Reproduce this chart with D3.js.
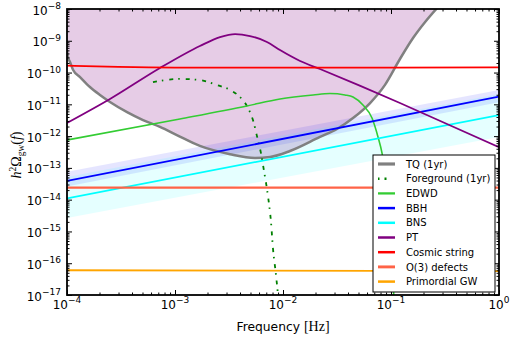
<!DOCTYPE html>
<html>
<head>
<meta charset="utf-8">
<script src="https://cdn.jsdelivr.net/npm/d3@7"></script>
<style>
  body { margin: 0; background: #fff; }
  svg { font-family: "DejaVu Sans", sans-serif; }
</style>
</head>
<body>
<svg id="chart" width="516" height="337"></svg>
<script>
// TianQin sensitivity (1yr)
var tqFreq = [1.0e-4, 1.02e-4, 1.066e-4, 1.14e-4, 1.32e-4, 1.63e-4, 2.02e-4, 2.50e-4, 3.60e-4, 5.06e-4, 7.26e-4, 1.04e-3,
              1.70e-3, 3.23e-3, 5.5e-3, 7.6e-3, 1.16e-2, 2.2e-2, 3.16e-2, 4.45e-2, 6.4e-2, 8.8e-2, 0.121, 0.160, 0.207, 0.267];
var tqOmega = [5.1e-10, 3.1e-10, 2.15e-10, 1.2e-10, 7.2e-11, 3.5e-11, 1.97e-11, 1.19e-11, 5.7e-12, 3.2e-12, 1.94e-12, 1.08e-12,
               4.9e-13, 2.7e-13, 2.05e-13, 2.2e-13, 3.4e-13, 9.4e-13, 1.67e-12, 3.7e-12, 1.1e-11, 4.1e-11, 2.67e-10, 1.22e-9, 3.9e-9, 1.07e-8];

// galactic foreground (1yr)
var fgFreq = [6.25e-4, 1.11e-3, 1.70e-3, 2.45e-3, 3.37e-3, 4.0e-3, 4.74e-3, 5.27e-3, 5.74e-3, 6.25e-3, 6.67e-3, 7.26e-3,
              7.74e-3, 8.07e-3, 8.61e-3, 8.99e-3, 9.3e-3];
var fgOmega = [5.0e-11, 6.3e-11, 5.8e-11, 4.06e-11, 2.63e-11, 1.70e-11, 7.7e-12, 3.2e-12, 1.0e-12, 2.9e-13, 8.0e-14, 1.3e-14,
               2.0e-15, 3.0e-16, 4.3e-17, 1.0e-17, 3e-18];

var edwdFreq = [1e-4, 1.11e-3, 4.64e-3, 9.38e-3, 1.90e-2, 2.72e-2, 3.75e-2, 4.45e-2, 5.5e-2, 6.67e-2, 7.58e-2, 8.26e-2, 9.0e-2, 9.8e-2, 0.106];
var edwdOmega = [7.55e-13, 3.46e-12, 8.9e-12, 1.47e-11, 1.97e-11, 2.19e-11, 1.97e-11, 1.70e-11, 9.5e-12, 3.7e-12, 9.4e-13, 2.9e-13, 4.2e-14, 2.3e-15, 1e-17];

var ptFreq = [1e-4, 2.5e-4, 7.26e-4, 1.70e-3, 2.61e-3, 3.6e-3, 4.95e-3, 7.1e-3, 9.38e-3, 1.44e-2, 2.2e-2, 5.2e-2, 0.121, 0.330, 1.0];
var ptOmega = [2.59e-12, 1.47e-11, 1.39e-10, 6.85e-10, 1.31e-9, 1.63e-9, 1.41e-9, 9.2e-10, 5.1e-10, 2.31e-10, 1.29e-10, 3.8e-11, 1.10e-11, 2.40e-12, 4.5e-13];

// power laws, two ends
var plFreq = [1e-4, 1];
var bbhOmega = [3.87e-14, 1.74e-11];
var bbhLow = [2.6e-14, 1.17e-11];
var bbhHigh = [7.6e-14, 2.83e-11];
var bnsOmega = [1.10e-14, 4.6e-12];
var bnsLow = [2.65e-15, 9.4e-13];
var bnsHigh = [5.2e-14, 2.1e-11];

var csFreq = [1e-4, 3e-4, 1e-3, 1e-2, 1e-1, 1];
var csOmega = [1.65e-10, 1.5e-10, 1.43e-10, 1.42e-10, 1.43e-10, 1.45e-10];
var o3Omega = [2.4e-14, 2.4e-14];
var pgwOmega = [6.0e-17, 5.6e-17];

var xTicks = [1e-4, 1e-3, 1e-2, 1e-1, 1];
var yTicks = [1e-17, 1e-16, 1e-15, 1e-14, 1e-13, 1e-12, 1e-11, 1e-10, 1e-9, 1e-8];

var legendNames = ["TQ (1yr)", "Foreground (1yr)", "EDWD", "BBH", "BNS", "PT", "Cosmic string", "O(3) defects", "Primordial GW"];

var svg = d3.select("#chart"),
    margin = {left: 67, right: 17, top: 9, bottom: 42},
    width = 516 - margin.left - margin.right,
    height = 337 - margin.top - margin.bottom,
    g = svg.append("g").attr("transform", "translate(" + margin.left + "," + margin.top + ")");

var x = d3.scaleLog().domain([1e-4, 1]).range([0, width]);
var y = d3.scaleLog().domain([1e-17, 1e-8]).range([height, 0]);

function pairs(fs, vs) { return fs.map(function(f, i) { return [f, vs[i]]; }); }

var line = d3.line()
    .x(function(d) { return x(d[0]); })
    .y(function(d) { return y(d[1]); })
    .curve(d3.curveMonotoneX);

g.append("clipPath").attr("id", "clip")
  .append("rect").attr("width", width).attr("height", height);

var plot = g.append("g").attr("clip-path", "url(#clip)");

// shaded region above the sensitivity curve
plot.append("path")
    .datum(pairs(tqFreq, tqOmega))
    .attr("fill", "#800080").attr("fill-opacity", 0.2)
    .attr("d", d3.area()
      .x(function(d) { return x(d[0]); })
      .y0(-20)
      .y1(function(d) { return y(d[1]); })
      .curve(d3.curveMonotoneX));

function band(lo, hi, color) {
  plot.append("path")
      .datum(plFreq.map(function(f, i) { return [f, lo[i], hi[i]]; }))
      .attr("fill", color).attr("fill-opacity", 0.1)
      .attr("d", d3.area()
        .x(function(d) { return x(d[0]); })
        .y0(function(d) { return y(d[1]); })
        .y1(function(d) { return y(d[2]); }));
}
band(bbhLow, bbhHigh, "#0000ff");
band(bnsLow, bnsHigh, "#00ffff");

var series = [
  {f: tqFreq, v: tqOmega, color: "#808080", w: 2.5},
  {f: fgFreq, v: fgOmega, color: "#008000", w: 1.8, dash: "4,5,1.5,6"},
  {f: edwdFreq, v: edwdOmega, color: "#33cc33", w: 1.6},
  {f: plFreq, v: bbhOmega, color: "#0000ff", w: 1.8},
  {f: plFreq, v: bnsOmega, color: "#00ffff", w: 1.8},
  {f: ptFreq, v: ptOmega, color: "#800080", w: 1.8},
  {f: csFreq, v: csOmega, color: "#ff0000", w: 1.8},
  {f: plFreq, v: o3Omega, color: "#ff6347", w: 2.2},
  {f: plFreq, v: pgwOmega, color: "#ffa500", w: 1.8}
];

series.forEach(function(s) {
  plot.append("path")
      .datum(pairs(s.f, s.v))
      .attr("fill", "none")
      .attr("stroke", s.color)
      .attr("stroke-width", s.w)
      .attr("stroke-dasharray", s.dash || null)
      .attr("d", line);
});

// ticks, inward on all four sides
function minors(lo, hi) {
  var out = [];
  for (var e = lo; e < hi; e++)
    for (var k = 2; k < 10; k++) out.push(k * Math.pow(10, e));
  return out;
}
var xMinor = minors(-4, 0), yMinor = minors(-17, -8);

function drawTicks(axis, tr, vals, size) {
  var a = g.append("g").attr("transform", tr)
      .call(axis.tickValues(vals).tickSize(size).tickFormat(""));
  a.select(".domain").remove();
  a.selectAll("line").attr("stroke", "#000");
}
drawTicks(d3.axisBottom(x), "translate(0," + height + ")", xTicks, -5);
drawTicks(d3.axisBottom(x), "translate(0," + height + ")", xMinor, -2.5);
drawTicks(d3.axisTop(x), "translate(0,0)", xTicks, -5);
drawTicks(d3.axisTop(x), "translate(0,0)", xMinor, -2.5);
drawTicks(d3.axisLeft(y), "translate(0,0)", yTicks, -5);
drawTicks(d3.axisLeft(y), "translate(0,0)", yMinor, -2.5);
drawTicks(d3.axisRight(y), "translate(" + width + ",0)", yTicks, -5);
drawTicks(d3.axisRight(y), "translate(" + width + ",0)", yMinor, -2.5);

g.append("rect").attr("width", width).attr("height", height)
    .attr("fill", "none").attr("stroke", "#000").attr("stroke-width", 1.8);

function expo(d) {
  var e = Math.round(Math.log10(d));
  return (e < 0 ? "\u2212" : "") + Math.abs(e);
}
function powerLabel(sel) {
  sel.append("tspan").text("10");
  sel.append("tspan").attr("dy", -5.5).attr("font-size", 9).text(function(d) { return expo(d); });
}

g.selectAll(".xlab").data(xTicks).enter().append("text")
    .attr("class", "xlab")
    .attr("x", function(d) { return x(d); })
    .attr("y", height + 13.5)
    .attr("text-anchor", "middle")
    .attr("font-size", 12)
    .call(powerLabel);

g.selectAll(".ylab").data(yTicks).enter().append("text")
    .attr("class", "ylab")
    .attr("x", -6)
    .attr("y", function(d) { return y(d) + 5.5; })
    .attr("text-anchor", "end")
    .attr("font-size", 12)
    .call(powerLabel);

// axis titles
var xt = g.append("text")
    .attr("x", width / 2).attr("y", height + 36)
    .attr("text-anchor", "middle")
    .attr("font-size", 12.3);
xt.append("tspan").text("Frequency ");
xt.append("tspan").attr("font-family", "Liberation Serif").attr("font-size", 14).text("[Hz]");

var yt = svg.append("text")
    .attr("transform", "translate(21," + (margin.top + height / 2 + 3) + ") rotate(-90)")
    .attr("text-anchor", "middle")
    .attr("font-family", "Liberation Serif")
    .attr("font-size", 14);
yt.append("tspan").attr("font-style", "italic").text("h");
yt.append("tspan").attr("dy", -5).attr("font-size", 9.5).text("2");
yt.append("tspan").attr("dy", 5).text("\u03a9");
yt.append("tspan").attr("dy", 3).attr("font-size", 9.5).text("gw");
yt.append("tspan").attr("dy", -3).text("(");
yt.append("tspan").attr("font-style", "italic").text("f");
yt.append("tspan").text(")");

// legend
var lg = svg.append("g").attr("transform", "translate(373,155)");
lg.append("rect").attr("width", 122).attr("height", 137)
    .attr("fill", "#fff").attr("stroke", "#000").attr("stroke-width", 1);

var item = lg.selectAll(".item").data(series).enter().append("g")
    .attr("transform", function(d, i) { return "translate(0," + (9 + i * 14.7) + ")"; });
item.append("line")
    .attr("x1", 5).attr("x2", 22)
    .attr("stroke", function(d) { return d.color; })
    .attr("stroke-width", function(d) { return d.w + 0.7; })
    .attr("stroke-dasharray", function(d) { return d.dash ? "1.5,5,2,9" : null; });
item.append("text")
    .attr("x", 33).attr("y", 3.6)
    .attr("font-size", 10)
    .text(function(d, i) { return legendNames[i]; });
</script>
</body>
</html>
